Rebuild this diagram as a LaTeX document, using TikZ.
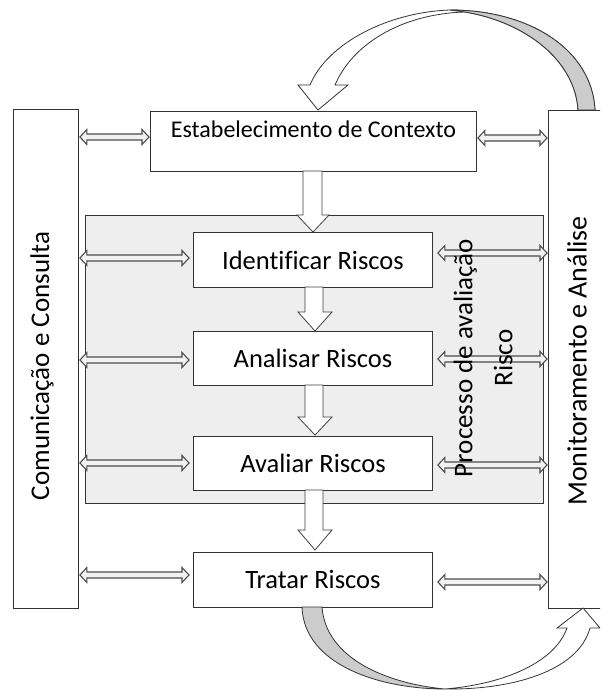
\documentclass[tikz,border=0pt]{standalone}
\usepackage{fontspec}
\setmainfont{Carlito}[Ligatures=NoCommon]
\usetikzlibrary{arrows.meta,calc}
\begin{document}
\begin{tikzpicture}[x=1pt,y=-1pt,
  box/.style={draw=black!80, line width=0.9pt, fill=white, inner sep=0pt, anchor=north west, font=\fontsize{26.5}{30}\selectfont},
  side/.style={draw=black!80, line width=0.9pt, fill=white, inner sep=0pt, anchor=north west},
  harr/.style={draw=black!70, line width=1.1pt, fill=gray!10, line join=miter,
    to path={let \p1=(\tikztostart), \p2=(\tikztotarget) in
      (\x1,\y1) -- (\x1+7pt,\y1+7.5pt) -- (\x1+7pt,\y1+3pt) -- (\x2-7pt,\y1+3pt)
      -- (\x2-7pt,\y1+7.5pt) -- (\x2,\y1) -- (\x2-7pt,\y1-7.5pt) -- (\x2-7pt,\y1-3pt)
      -- (\x1+7pt,\y1-3pt) -- (\x1+7pt,\y1-7.5pt) -- cycle}},
  blk/.style={draw=black!75, fill=white, line width=0.8pt, line join=miter},
  curv/.style={draw=black!80, line width=0.8pt, fill=white},
  rot/.style={rotate=90, font=\fontsize{27}{32}\selectfont}
]
\clip (0,0) rectangle (600,690);
\fill[white] (0,0) rectangle (600,690);

% grey process area
\node[side, fill=gray!13, minimum width=458pt, minimum height=288pt] (P) at (85,215) {};

% side boxes
\node[side, minimum width=65pt, minimum height=499pt] (L) at (13,109) {};
\node[side, minimum width=60pt, minimum height=498pt] (R) at (548,110) {};
\node[rot] (Lt) at (42,366) {Comunicação e Consulta};
\node[rot, font=\fontsize{28}{32}\selectfont] (Rt) at (577,361) {Monitoramento e Análise};

% main boxes
\node[box, minimum width=326pt, minimum height=60pt,
  label={[anchor=north, inner sep=0pt, yshift=-10pt, font=\fontsize{24}{28}\selectfont]north:Estabelecimento de Contexto}] (E) at (150,111) {};
\node[box, minimum width=239pt, minimum height=55pt] (I) at (193,232) {Identificar Riscos};
\node[box, minimum width=239pt, minimum height=54pt] (An) at (193,331) {Analisar Riscos};
\node[box, minimum width=239pt, minimum height=54pt] (Av) at (193,436) {Avaliar Riscos};
\node[box, minimum width=239pt, minimum height=55pt] (T) at (193,552) {Tratar Riscos};

% block down arrows
\draw[blk] (303,171) -- (303,215) -- (297,215) -- (313,232) -- (329,215) -- (322,215) -- (322,171) -- cycle;
\draw[blk] (305,287) -- (305,312) -- (298,312) -- (315,331) -- (332,312) -- (323,312) -- (323,287) -- cycle;
\draw[blk] (305,385) -- (305,417) -- (298,417) -- (315,435) -- (332,417) -- (323,417) -- (323,385) -- cycle;
\draw[blk] (305,490) -- (305,530) -- (298,530) -- (315,550) -- (332,530) -- (323,530) -- (323,490) -- cycle;

% double arrows left
\draw[harr] ($(L.east |- 0,137)+(1,0)$) to ($(E.west |- 0,137)+(-1,0)$);
\draw[harr] ($(L.east |- 0,258)+(1,0)$) to ($(I.west |- 0,258)+(-4,0)$);
\draw[harr] ($(L.east |- 0,360)+(1,0)$) to ($(An.west |- 0,360)+(-4,0)$);
\draw[harr] ($(L.east |- 0,463)+(1,0)$) to ($(Av.west |- 0,463)+(-4,0)$);
\draw[harr] ($(L.east |- 0,575)+(1,0)$) to ($(T.west |- 0,575)+(-4,0)$);
% double arrows right
\draw[harr] ($(E.east |- 0,138)+(1,0)$) to ($(R.west |- 0,138)+(-1,0)$);
\draw[harr] ($(I.east |- 0,253)+(5,0)$) to ($(R.west |- 0,253)+(-1,0)$);
\draw[harr] ($(An.east |- 0,359)+(5,0)$) to ($(R.west |- 0,359)+(-1,0)$);
\draw[harr] ($(Av.east |- 0,465)+(5,0)$) to ($(R.west |- 0,465)+(-1,0)$);
\draw[harr] ($(T.east |- 0,582)+(5,0)$) to ($(R.west |- 0,582)+(-1,0)$);

% process label (over the arrows)
\node[rot, align=center] (Pt) at (483,358) {Processo de avaliação\\[8pt]Risco};

% top curved arrow (R -> E)
\draw[curv] (318,110) -- (348,85) -- (335,85) .. controls (352,45) and (400,14) .. (465,12)
  .. controls (525,22) and (575,60) .. (578,110) -- (595,110)
  .. controls (592,50) and (530,10) .. (450,10)
  .. controls (390,12) and (328,42) .. (310,85) -- (298,85) -- cycle;
\draw[curv, fill=gray!40] (465,12) .. controls (525,22) and (575,60) .. (578,110) -- (595,110)
  .. controls (592,50) and (530,10) .. (450,10) -- cycle;

% bottom curved arrow (T -> R)
\draw[curv, fill=gray!40] (302,607) .. controls (304,665) and (380,689) .. (445,689)
  .. controls (390,684) and (326,660) .. (322,607) -- cycle;
\draw[curv] (445,689) .. controls (510,690) and (578,672) .. (590,628) -- (600,628) -- (583,608)
  -- (557,628) -- (567,628) .. controls (555,662) and (505,684) .. (445,689) -- cycle;
\end{tikzpicture}
\end{document}
